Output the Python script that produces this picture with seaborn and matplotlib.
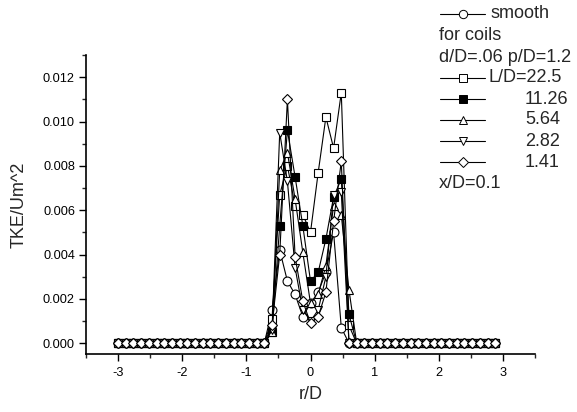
import matplotlib
matplotlib.use("Agg")
import matplotlib.pyplot as plt
from matplotlib.lines import Line2D
from matplotlib.ticker import MultipleLocator, FormatStrFormatter
import seaborn as sns

sns.set_style("ticks")
plt.rcParams['font.family'] = ['Liberation Sans', 'DejaVu Sans']

r_D = [-3.00, -2.88, -2.76, -2.64, -2.52, -2.40, -2.28, -2.16, -2.04, -1.92,
       -1.80, -1.68, -1.56, -1.44, -1.32, -1.20, -1.08, -0.96, -0.84, -0.72,
       -0.60, -0.48, -0.36, -0.24, -0.12, 0.00, 0.12, 0.24, 0.36, 0.48,
       0.60, 0.72, 0.84, 0.96, 1.08, 1.20, 1.32, 1.44, 1.56, 1.68,
       1.80, 1.92, 2.04, 2.16, 2.28, 2.40, 2.52, 2.64, 2.76, 2.88]

Z = 0.0
smooth = [Z, Z, Z, Z, Z, Z, Z, Z, Z, Z, Z, Z, Z, Z, Z, Z, Z, Z, Z, Z,
          0.0015, 0.0042, 0.0028, 0.0022, 0.0012, 0.0018, 0.0023, 0.0032, 0.0050, 0.0007,
          Z, Z, Z, Z, Z, Z, Z, Z, Z, Z, Z, Z, Z, Z, Z, Z, Z, Z, Z, Z]
ld_22_5 = [Z, Z, Z, Z, Z, Z, Z, Z, Z, Z, Z, Z, Z, Z, Z, Z, Z, Z, Z, Z,
           0.0011, 0.0067, 0.0080, 0.0062, 0.0058, 0.0050, 0.0077, 0.0102, 0.0088, 0.0113,
           0.0008, Z, Z, Z, Z, Z, Z, Z, Z, Z, Z, Z, Z, Z, Z, Z, Z, Z, Z, Z]
ld_11_26 = [Z, Z, Z, Z, Z, Z, Z, Z, Z, Z, Z, Z, Z, Z, Z, Z, Z, Z, Z, Z,
            0.0005, 0.0053, 0.0096, 0.0075, 0.0053, 0.0028, 0.0032, 0.0047, 0.0066, 0.0074,
            0.0013, Z, Z, Z, Z, Z, Z, Z, Z, Z, Z, Z, Z, Z, Z, Z, Z, Z, Z, Z]
ld_5_64 = [Z, Z, Z, Z, Z, Z, Z, Z, Z, Z, Z, Z, Z, Z, Z, Z, Z, Z, Z, Z,
           0.0005, 0.0078, 0.0086, 0.0065, 0.0041, 0.0018, 0.0022, 0.0035, 0.0062, 0.0058,
           0.0024, Z, Z, Z, Z, Z, Z, Z, Z, Z, Z, Z, Z, Z, Z, Z, Z, Z, Z, Z]
ld_2_82 = [Z, Z, Z, Z, Z, Z, Z, Z, Z, Z, Z, Z, Z, Z, Z, Z, Z, Z, Z, Z,
           0.0006, 0.0095, 0.0073, 0.0034, 0.0015, 0.0010, 0.0015, 0.0030, 0.0067, 0.0068,
           Z, Z, Z, Z, Z, Z, Z, Z, Z, Z, Z, Z, Z, Z, Z, Z, Z, Z, Z, Z]
ld_1_41 = [Z, Z, Z, Z, Z, Z, Z, Z, Z, Z, Z, Z, Z, Z, Z, Z, Z, Z, Z, Z,
           0.0008, 0.0040, 0.0110, 0.0039, 0.0019, 0.0009, 0.0012, 0.0023, 0.0055, 0.0082,
           Z, Z, Z, Z, Z, Z, Z, Z, Z, Z, Z, Z, Z, Z, Z, Z, Z, Z, Z, Z]

series = [
    (smooth, 'o', 'white'),
    (ld_22_5, 's', 'white'),
    (ld_11_26, 's', 'black'),
    (ld_5_64, '^', 'white'),
    (ld_2_82, 'v', 'white'),
    (ld_1_41, 'D', 'white'),
]

W, H = 577, 412
fig = plt.figure(figsize=(W / 100, H / 100), dpi=100)
AX_L, AX_R, AX_T, AX_B = 86, 535, 55, 354.3
ax = fig.add_axes([AX_L / W, 1 - AX_B / H, (AX_R - AX_L) / W, (AX_B - AX_T) / H])

for ys, mk, fc in series:
    ms = 5.4 if mk == 'D' else 6.4
    sns.lineplot(x=r_D, y=ys, ax=ax, color='black', lw=0.8, marker=mk,
                 markersize=ms, markerfacecolor=fc, markeredgecolor='black',
                 markeredgewidth=0.8, sort=False, estimator=None)

ax.set_xlim(-3.5, 3.5)
ax.set_ylim(-0.0005, 0.013)
ax.xaxis.set_major_locator(MultipleLocator(1))
ax.xaxis.set_minor_locator(MultipleLocator(0.5))
ax.yaxis.set_major_locator(MultipleLocator(0.002))
ax.yaxis.set_minor_locator(MultipleLocator(0.001))
ax.yaxis.set_major_formatter(FormatStrFormatter('%.3f'))
ax.xaxis.set_major_formatter(FormatStrFormatter('%d'))
ax.tick_params(which='major', direction='out', length=5, width=1, labelsize=9.2,
               colors='black')
ax.tick_params(axis='y', which='major', pad=3)
ax.tick_params(axis='x', which='major', pad=4)
ax.tick_params(which='minor', direction='out', length=2.8, width=1)
for s in ['top', 'right']:
    ax.spines[s].set_visible(False)
for s in ['left', 'bottom']:
    ax.spines[s].set_linewidth(1.2)
    ax.spines[s].set_color('black')
ax.set_xlabel('r/D', fontsize=13)
ax.set_ylabel('TKE/Um^2', fontsize=13)
ax.xaxis.set_label_coords(0.5, (AX_B - 386) / (AX_B - AX_T))
ax.yaxis.set_label_coords((28 - AX_L) / (AX_R - AX_L), 0.5)

# manual legend (figure pixel coordinates)
def px(x, y):
    return x / W, 1 - y / H

rows = [
    (14, 'o', 'white', 'smooth', 490),
    (36, None, None, 'for coils', 439),
    (57, None, None, 'd/D=.06 p/D=1.2', 439),
    (78, 's', 'white', 'L/D=22.5', 488),
    (99, 's', 'black', '11.26', 525),
    (120, '^', 'white', '5.64', 525),
    (141, 'v', 'white', '2.82', 525),
    (162, 'D', 'white', '1.41', 525),
    (183, None, None, 'x/D=0.1', 439),
]
for y, mk, fc, label, tx in rows:
    if mk is not None:
        x0, yy = px(440, y)
        x1, _ = px(485, y)
        fig.add_artist(Line2D([x0, x1], [yy, yy], color='black', lw=0.8,
                              transform=fig.transFigure))
        xm, _ = px(462.5, y)
        fig.add_artist(Line2D([xm], [yy], marker=mk, markersize=6.0 if mk != 'D' else 5.2,
                              markerfacecolor=fc, markeredgecolor='black',
                              markeredgewidth=0.7, linestyle='none',
                              transform=fig.transFigure))
    tx0, ty0 = px(tx, y)
    fig.text(tx0, ty0, label, fontsize=13, va='center', ha='left')

fig.savefig('out.png', dpi=100)
